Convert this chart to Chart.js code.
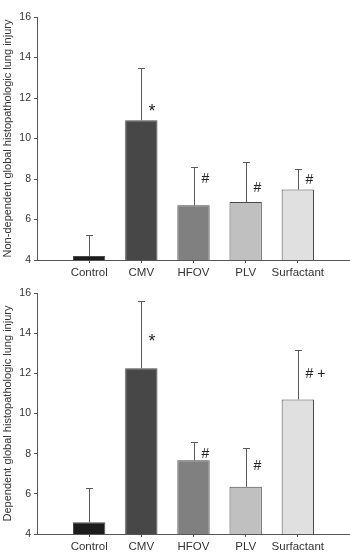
<!DOCTYPE html>
<html>
<head>
<meta charset="utf-8">
<script src="https://cdn.jsdelivr.net/npm/chart.js@4/dist/chart.umd.min.js"></script>
<style>
  body { margin: 0; background: #fff; }
  .page { width: 350px; height: 552px; position: relative; overflow: hidden; }
  .page canvas { position: absolute; left: 0; }
  #topChart { top: 0; }
  #bottomChart { top: 276px; }
</style>
</head>
<body>
<div class="page">
  <canvas id="topChart" width="350" height="290"></canvas>
  <canvas id="bottomChart" width="350" height="290"></canvas>
</div>
<script>
// groups on the x axis
var groups = ['Control', 'CMV', 'HFOV', 'PLV', 'Surfactant'];
var barColors = ['#1c1c1c', '#474747', '#808080', '#c0c0c0', '#e0e0e0'];
var yTicks = [4, 6, 8, 10, 12, 14, 16];

// non-dependent lung regions
var nonDepMean = [4.2, 10.9, 6.7, 6.86, 7.48];
var nonDepSD = [1.03, 2.6, 1.9, 1.98, 1.02];
var nonDepMarks = ['', '*', '#', '#', '#'];
var nonDepMarkAt = [null, 11.5, 8.0, 7.56, 7.94];

// dependent lung regions
var depMean = [4.58, 12.25, 7.67, 6.35, 10.7];
var depSD = [1.72, 3.33, 0.93, 1.95, 2.45];
var depMarks = ['', '*', '#', '#', '# +'];
var depMarkAt = [null, 13.77, 8.0, 7.38, 11.97];

Chart.defaults.font.family = "'Liberation Sans', Arial, sans-serif";
Chart.defaults.color = '#333';

// draws the upper error bars and the significance marks
var errorBars = {
  id: 'errorBars',
  afterDatasetsDraw: function (chart) {
    var ctx = chart.ctx;
    var x = chart.scales.x, y = chart.scales.y;
    var o = chart.options.plugins.errorBars;
    ctx.save();
    ctx.strokeStyle = '#5a5a5a';
    ctx.lineWidth = 1;
    for (var i = 0; i < o.mean.length; i++) {
      var px = Math.round(x.getPixelForValue(i + 1)) + 0.5;
      var y0 = y.getPixelForValue(o.mean[i]);
      var y1 = Math.round(y.getPixelForValue(o.mean[i] + o.sd[i])) + 0.5;
      ctx.beginPath();
      ctx.moveTo(px, y0);
      ctx.lineTo(px, y1);
      ctx.moveTo(px - 3.5, y1);
      ctx.lineTo(px + 3.5, y1);
      ctx.stroke();
      if (o.marks[i]) {
        ctx.fillStyle = '#222';
        ctx.textAlign = 'left';
        ctx.textBaseline = 'middle';
        var ty = y.getPixelForValue(o.markAt[i]);
        if (o.marks[i] === '*') {
          ctx.font = "18px 'Liberation Sans', Arial, sans-serif";
          ty += 4;
        } else {
          ctx.font = "14px 'Liberation Sans', Arial, sans-serif";
        }
        ctx.fillText(o.marks[i], px + 7, ty);
      }
    }
    ctx.restore();
  }
};

function makeChart(id, title, mean, sd, marks, markAt, xHeight) {
  var points = mean.map(function (v, i) { return { x: i + 1, y: v }; });
  return new Chart(document.getElementById(id), {
    type: 'bar',
    data: {
      datasets: [{
        data: points,
        backgroundColor: barColors,
        borderColor: '#4a4a4a',
        borderWidth: 1,
        barPercentage: 0.62,
        categoryPercentage: 1
      }]
    },
    options: {
      responsive: false,
      animation: false,
      layout: { padding: { top: 17, right: 0, bottom: 0, left: 0 } },
      plugins: {
        legend: { display: false },
        tooltip: { enabled: false },
        errorBars: { mean: mean, sd: sd, marks: marks, markAt: markAt }
      },
      scales: {
        x: {
          type: 'linear',
          min: 0,
          max: 6,
          offset: false,
          afterBuildTicks: function (scale) {
            scale.ticks = groups.map(function (g, i) { return { value: i + 1 }; });
          },
          afterFit: function (scale) {
            scale.height = xHeight;
            scale.paddingLeft = 0;
            scale.paddingRight = 0;
          },
          ticks: {
            font: { size: 11.5 },
            padding: 3,
            autoSkip: false,
            maxRotation: 0,
            callback: function (v) { return groups[v - 1]; }
          },
          grid: { offset: false, drawOnChartArea: false, drawTicks: true, tickLength: 3, color: '#555' },
          border: { color: '#555' }
        },
        y: {
          min: 4,
          max: 16,
          afterBuildTicks: function (scale) {
            scale.ticks = yTicks.map(function (v) { return { value: v }; });
          },
          afterFit: function (scale) { scale.width = 37; },
          ticks: { font: { size: 10.5 }, padding: 3 },
          grid: { drawOnChartArea: false, drawTicks: true, tickLength: 3, color: '#555' },
          border: { color: '#555' },
          title: {
            display: true,
            text: title,
            font: { size: 11 },
            color: '#333',
            padding: { top: 1, bottom: 0 }
          }
        }
      }
    },
    plugins: [errorBars]
  });
}

// canvas is 290 tall; x axis box sets where the axis line sits (260 and 258 px down)
makeChart('topChart', 'Non-dependent global histopathologic lung injury',
  nonDepMean, nonDepSD, nonDepMarks, nonDepMarkAt, 30);
makeChart('bottomChart', 'Dependent global histopathologic lung injury',
  depMean, depSD, depMarks, depMarkAt, 32);
</script>
</body>
</html>
